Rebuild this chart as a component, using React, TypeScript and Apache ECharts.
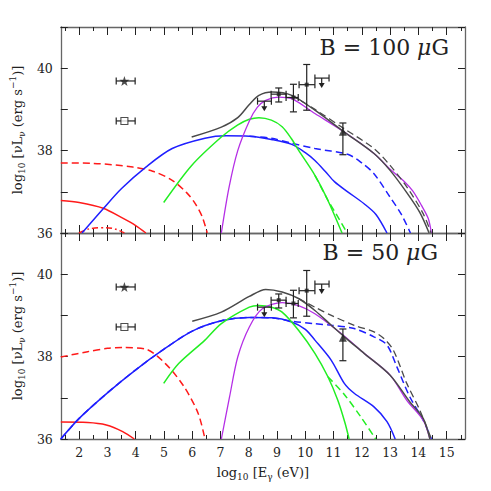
import React, { useEffect, useRef } from "react";
import * as echarts from "echarts";

// ---------- axis ticks ----------
const X_MIN = 1.35;
const X_MAX = 15.65;
const majorX = [2, 3, 4, 5, 6, 7, 8, 9, 10, 11, 12, 13, 14, 15];
const minorX = [1.5, 2.5, 3.5, 4.5, 5.5, 6.5, 7.5, 8.5, 9.5, 10.5, 11.5, 12.5, 13.5, 14.5, 15.5];
const Y_MIN = 36;
const Y_MAX = 41;

// ---------- panel 1 : B = 100 muG ----------
const redSolidA = [[1.35, 36.79], [2.0, 36.74], [2.85, 36.6], [3.54, 36.36], [4.0, 36.18], [4.36, 36.0]];
const redDashDotA = [[1.99, 36.0], [2.35, 36.1], [2.96, 36.13], [3.3, 36.09], [3.6, 36.0]];
const redDashA = [[1.35, 37.7], [2.5, 37.69], [3.9, 37.6], [4.6, 37.5], [5.29, 37.28], [5.8, 36.98], [6.1, 36.72], [6.35, 36.4], [6.53, 36.0]];
const blueSolidA = [[2.1, 36.0], [2.85, 36.59], [3.5, 37.08], [4.36, 37.6], [5.29, 38.05], [6.45, 38.3], [7.2, 38.36], [8.02, 38.35], [8.8, 38.27], [9.52, 38.15], [10.0, 37.95], [10.34, 37.76], [10.7, 37.5], [11.04, 37.24], [11.5, 37.0], [12.08, 36.71], [12.5, 36.45], [12.89, 36.0]];
const blueDashA = [[8.02, 38.35], [8.8, 38.3], [9.52, 38.18], [10.34, 38.05], [11.5, 37.91], [12.0, 37.7], [12.43, 37.44], [13.0, 36.87], [13.4, 36.45], [13.72, 36.0]];
const greenSolidA = [[4.99, 36.74], [5.98, 37.64], [7.03, 38.33], [7.6, 38.62], [8.02, 38.76], [8.36, 38.8], [8.8, 38.74], [9.18, 38.58], [9.5, 38.3], [9.76, 38.01], [10.34, 37.4], [10.8, 36.79], [11.3, 36.0]];
const greenDashA = [[10.34, 37.4], [10.8, 36.8], [11.1, 36.45], [11.48, 36.0]];
const magentaA = [[7.03, 36.0], [7.3, 37.1], [7.61, 38.0], [8.02, 38.72], [8.3, 39.05], [8.6, 39.22], [9.06, 39.3], [9.52, 39.26], [10.34, 38.9], [11.38, 38.45], [12.43, 37.93], [13.0, 37.55], [13.5, 37.25], [13.8, 37.02], [14.11, 36.67], [14.35, 36.35], [14.46, 36.0]];
const graySolidA = [[5.98, 38.33], [7.03, 38.57], [7.61, 38.8], [8.02, 39.12], [8.36, 39.34], [8.83, 39.42], [9.52, 39.34], [10.34, 38.98], [11.38, 38.45], [12.43, 37.93], [13.0, 37.52], [13.59, 36.98], [14.05, 36.5], [14.38, 36.0]];
const grayDashA = [[9.52, 39.34], [10.34, 39.0], [11.38, 38.53], [12.43, 38.05], [13.0, 37.64], [13.59, 37.12], [14.17, 36.47], [14.45, 36.0]];

// ---------- panel 2 : B = 50 muG ----------
const redSolidB = [[1.35, 36.41], [2.3, 36.4], [2.96, 36.34], [3.54, 36.18], [3.95, 36.0]];
const redDashB = [[1.35, 37.99], [2.3, 38.12], [3.0, 38.2], [3.54, 38.22], [4.36, 38.18], [5.05, 37.83], [5.71, 37.27], [6.21, 36.62], [6.45, 36.0]];
const blueSolidB = [[1.35, 36.0], [2.0, 36.5], [3.0, 37.12], [4.0, 37.68], [5.0, 38.18], [6.0, 38.62], [7.03, 38.87], [8.02, 38.95], [8.83, 38.94], [9.52, 38.84], [10.0, 38.66], [10.34, 38.4], [10.92, 37.91], [11.38, 37.35], [11.73, 37.11], [12.43, 36.78], [12.89, 36.42], [13.18, 36.0]];
const blueDashB = [[1.35, 36.0], [2.0, 36.5], [3.0, 37.12], [4.0, 37.68], [5.0, 38.18], [6.0, 38.62], [7.03, 38.87], [8.02, 38.95], [8.83, 38.94], [9.52, 38.86], [10.3, 38.8], [10.92, 38.76], [11.73, 38.68], [12.43, 38.48], [12.89, 38.28], [13.24, 37.75], [13.7, 37.02], [14.17, 36.46], [14.46, 36.0]];
const greenSolidB = [[4.99, 37.35], [5.52, 37.83], [6.45, 38.4], [7.03, 38.8], [8.02, 39.2], [8.36, 39.24], [8.8, 39.2], [9.18, 39.08], [9.76, 38.64], [10.34, 38.08], [10.8, 37.51], [11.15, 36.94], [11.4, 36.4], [11.55, 36.0]];
const greenDashB = [[10.8, 37.51], [11.38, 37.08], [11.96, 36.54], [12.49, 36.0]];
const magentaB = [[7.03, 36.0], [7.32, 37.02], [7.61, 37.99], [8.02, 38.72], [8.48, 39.16], [9.18, 39.31], [9.76, 39.24], [10.34, 39.04], [11.27, 38.56], [12.08, 38.08], [13.0, 37.55], [13.59, 36.94], [14.17, 36.46], [14.41, 36.0]];
const graySolidB = [[6.0, 38.86], [7.03, 39.08], [8.02, 39.46], [8.6, 39.63], [9.18, 39.57], [9.76, 39.41], [10.34, 39.12], [10.92, 38.76], [11.38, 38.48], [12.08, 38.08], [13.0, 37.55], [13.7, 36.9], [14.17, 36.5], [14.41, 36.0]];
const grayDashB = [[9.76, 39.41], [10.34, 39.2], [10.92, 39.0], [11.73, 38.76], [12.43, 38.6], [12.78, 38.44], [13.12, 38.15], [13.59, 37.35], [14.05, 36.7], [14.46, 36.0]];

// ---------- observations: [x, y, xlo, xhi, ylo, yhi, upperLimit] ----------
const starPts = [[3.6, 39.69, 3.31, 3.98, 39.69, 39.69, 0]];
const squarePts = [[3.6, 38.72, 3.31, 3.98, 38.72, 38.72, 0]];
const fermiPts = [
  [9.06, 39.37, 8.79, 9.32, 39.18, 39.52, 0],
  [9.58, 39.29, 9.32, 9.75, 38.94, 39.61, 0],
  [10.05, 39.6, 9.78, 10.34, 38.98, 40.09, 0],
];
const fermiUL = [
  [8.55, 39.2, 8.31, 8.8, 39.2, 39.2, 1],
  [10.58, 39.76, 10.34, 10.84, 39.76, 39.76, 1],
];
const hessPts = [[11.33, 38.46, 11.33, 11.33, 37.9, 38.67, 0]];

const FONT = "DejaVu Serif";
const RED = "#ff1a1a";
const BLUE = "#1f1fff";
const GREEN = "#22ee22";
const MAGENTA = "#b52ee6";
const GRAY = "#4a4a4a";
const FRAME = "#666666";
const INK = "#222222";

const STAR = "path://M0,-10 L2.35,-3.24 L9.51,-3.09 L3.8,1.24 L5.88,8.09 L0,4 L-5.88,8.09 L-3.8,1.24 L-9.51,-3.09 L-2.35,-3.24 Z";

const renderErr = (params: any, api: any) => {
  const x = api.value(0), y = api.value(1);
  const xlo = api.value(2), xhi = api.value(3);
  const ylo = api.value(4), yhi = api.value(5);
  const ul = api.value(6);
  const c = api.coord([x, y]);
  const st = { stroke: INK, lineWidth: 1.2 };
  const ch: any[] = [];
  const ln = (x1: number, y1: number, x2: number, y2: number) =>
    ch.push({ type: "line", shape: { x1, y1, x2, y2 }, style: st });
  const cap = 3.5;
  if (xhi > xlo) {
    const a = api.coord([xlo, y]);
    const b = api.coord([xhi, y]);
    ln(a[0], a[1], b[0], b[1]);
    ln(a[0], a[1] - cap, a[0], a[1] + cap);
    ln(b[0], b[1] - cap, b[0], b[1] + cap);
  }
  if (yhi > ylo) {
    const a = api.coord([x, ylo]);
    const b = api.coord([x, yhi]);
    ln(a[0], a[1], b[0], b[1]);
    ln(a[0] - cap, a[1], a[0] + cap, a[1]);
    ln(b[0] - cap, b[1], b[0] + cap, b[1]);
  }
  if (ul > 0) {
    ln(c[0], c[1], c[0], c[1] + 6);
    ch.push({
      type: "polygon",
      shape: { points: [[c[0] - 3, c[1] + 5], [c[0] + 3, c[1] + 5], [c[0], c[1] + 10]] },
      style: { fill: INK },
    });
  }
  return { type: "group", children: ch };
};

const yName = "{a|log}{s|10}{a| [νL}{s|ν}{a| (erg s}{u|−1}{a|)]}";
const xName = "{a|log}{s|10}{a| [E}{s|γ}{a| (eV)]}";
const nameRich = {
  a: { fontFamily: FONT, fontSize: 13, color: INK, lineHeight: 18, verticalAlign: "middle" },
  s: { fontFamily: FONT, fontSize: 9, color: INK, lineHeight: 9, verticalAlign: "bottom" },
  u: { fontFamily: FONT, fontSize: 9, color: INK, lineHeight: 9, verticalAlign: "top" },
};

function xAxesFor(g: number, labels: boolean) {
  const base = { type: "value", gridIndex: g, min: X_MIN, max: X_MAX, splitLine: { show: false } };
  return [
    {
      ...base,
      position: "bottom",
      axisLine: { show: true, onZero: false, lineStyle: { color: FRAME, width: 1.3 } },
      axisTick: { show: true, inside: true, length: 8, customValues: majorX, lineStyle: { color: INK, width: 1 } },
      axisLabel: {
        show: labels, customValues: majorX, margin: 7,
        fontFamily: FONT, fontSize: 12.5, color: INK,
      },
      name: labels ? xName : "",
      nameLocation: "middle",
      nameGap: 24,
      nameTextStyle: { rich: nameRich },
    },
    {
      ...base,
      position: "bottom",
      axisLine: { show: false },
      axisTick: { show: true, inside: true, length: 4, customValues: minorX, lineStyle: { color: INK, width: 1 } },
      axisLabel: { show: false },
    },
    {
      ...base,
      position: "top",
      axisLine: { show: true, onZero: false, lineStyle: { color: FRAME, width: 1.3 } },
      axisTick: { show: true, inside: true, length: 8, customValues: majorX, lineStyle: { color: INK, width: 1 } },
      axisLabel: { show: false },
    },
    {
      ...base,
      position: "top",
      axisLine: { show: false },
      axisTick: { show: true, inside: true, length: 4, customValues: minorX, lineStyle: { color: INK, width: 1 } },
      axisLabel: { show: false },
    },
  ];
}

function yAxesFor(g: number) {
  const base = { type: "value", gridIndex: g, min: Y_MIN, max: Y_MAX, interval: 1, splitLine: { show: false } };
  return [
    {
      ...base,
      position: "left",
      axisLine: { show: true, onZero: false, lineStyle: { color: FRAME, width: 1.3 } },
      axisTick: { show: true, inside: true, length: 7, lineStyle: { color: INK, width: 1 } },
      axisLabel: {
        margin: 8, fontFamily: FONT, fontSize: 12.5, color: INK,
        formatter: (v: number) => (v % 2 === 0 && v < 41 ? String(v) : ""),
      },
      name: yName,
      nameLocation: "middle",
      nameRotate: 90,
      nameGap: 22,
      nameTextStyle: { rich: nameRich },
    },
    {
      ...base,
      position: "right",
      axisLine: { show: true, onZero: false, lineStyle: { color: FRAME, width: 1.3 } },
      axisTick: { show: true, inside: true, length: 7, lineStyle: { color: INK, width: 1 } },
      axisLabel: { show: false },
    },
  ];
}

function lineS(g: number, data: number[][], color: string, type: any = "solid", width = 1.5) {
  return {
    type: "line",
    xAxisIndex: g * 4,
    yAxisIndex: g * 2,
    data,
    smooth: 0.3,
    showSymbol: false,
    silent: true,
    lineStyle: { color, width, type },
  };
}

function obsSeries(g: number) {
  const xi = g * 4, yi = g * 2;
  const all = [...starPts, ...squarePts, ...fermiPts, ...fermiUL, ...hessPts];
  return [
    { type: "custom", xAxisIndex: xi, yAxisIndex: yi, renderItem: renderErr, data: all, z: 5, clip: false },
    {
      type: "scatter", xAxisIndex: xi, yAxisIndex: yi, symbol: STAR, symbolSize: 10, z: 6,
      itemStyle: { color: INK }, data: starPts.map((p) => [p[0], p[1]]),
    },
    {
      type: "scatter", xAxisIndex: xi, yAxisIndex: yi, symbol: "rect", symbolSize: 7, z: 6,
      itemStyle: { color: "#ffffff", borderColor: INK, borderWidth: 1.1 }, data: squarePts.map((p) => [p[0], p[1]]),
    },
    {
      type: "scatter", xAxisIndex: xi, yAxisIndex: yi, symbol: "rect", symbolSize: 4, z: 6,
      itemStyle: { color: INK }, data: fermiPts.map((p) => [p[0], p[1]]),
    },
    {
      type: "scatter", xAxisIndex: xi, yAxisIndex: yi, symbol: "triangle", symbolSize: 8, z: 6,
      itemStyle: { color: INK }, data: hessPts.map((p) => [p[0], p[1]]),
    },
  ];
}

const DASH = [7, 4];
const DASHDOT = [6, 3, 2, 3];

export default function App() {
  const ref = useRef<HTMLDivElement>(null);
  useEffect(() => {
    if (!ref.current) return;
    const chart = echarts.init(ref.current, undefined, { renderer: "svg" });
    const bRich = {
      n: { fontFamily: FONT, fontSize: 22, fill: INK },
      i: { fontFamily: FONT, fontSize: 22, fontStyle: "italic", fill: INK },
    };
    const option: any = {
      animation: false,
      backgroundColor: "#ffffff",
      grid: [
        { left: 54, right: 26, top: 27, height: 206 },
        { left: 54, right: 26, top: 233, height: 206 },
      ],
      xAxis: [...xAxesFor(0, false), ...xAxesFor(1, true)],
      yAxis: [...yAxesFor(0), ...yAxesFor(1)],
      series: [
        lineS(0, redSolidA, RED),
        lineS(0, redDashDotA, RED, DASHDOT),
        lineS(0, redDashA, RED, DASH),
        lineS(0, blueSolidA, BLUE),
        lineS(0, blueDashA, BLUE, DASH),
        lineS(0, greenSolidA, GREEN),
        lineS(0, greenDashA, GREEN, DASH),
        lineS(0, magentaA, MAGENTA, "solid", 1.3),
        lineS(0, graySolidA, GRAY),
        lineS(0, grayDashA, GRAY, DASH, 1.3),
        ...obsSeries(0),
        lineS(1, redSolidB, RED),
        lineS(1, redDashB, RED, DASH),
        lineS(1, blueSolidB, BLUE),
        lineS(1, blueDashB, BLUE, DASH),
        lineS(1, greenSolidB, GREEN),
        lineS(1, greenDashB, GREEN, DASH),
        lineS(1, magentaB, MAGENTA, "solid", 1.3),
        lineS(1, graySolidB, GRAY),
        lineS(1, grayDashB, GRAY, DASH, 1.3),
        ...obsSeries(1),
      ],
      graphic: [
        {
          type: "text", right: 42, top: 36,
          style: { text: "{n|B = 100 }{i|μ}{n|G}", rich: bRich },
        },
        {
          type: "text", right: 53, top: 241,
          style: { text: "{n|B = 50 }{i|μ}{n|G}", rich: bRich },
        },
      ],
    };
    chart.setOption(option);
    return () => chart.dispose();
  }, []);
  return (
    <div
      ref={ref}
      style={{ position: "fixed", left: 0, top: 0, width: 491, height: 491, background: "#fff" }}
    />
  );
}
